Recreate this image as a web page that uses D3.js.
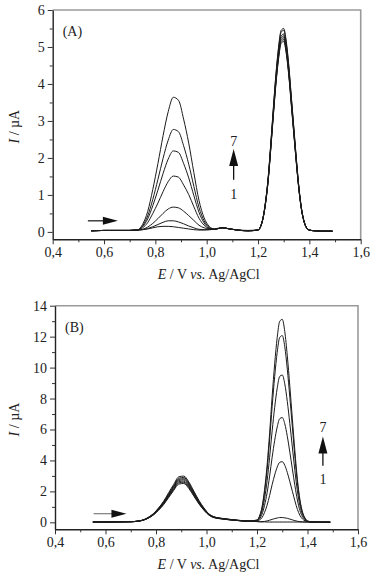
<!DOCTYPE html>
<html>
<head>
<meta charset="utf-8">
<script src="https://cdn.jsdelivr.net/npm/d3@7"></script>
<style>
  html, body { margin: 0; padding: 0; background: #fff; }
  svg { display: block; font-family: "Liberation Serif", "Times New Roman", serif; }
</style>
</head>
<body>
<svg width="375" height="575"></svg>
<script>
// potential grid shared by every voltammogram (V vs. Ag/AgCl)
const potential = [
  0.55, 0.60, 0.65, 0.70,
  0.73, 0.75, 0.77, 0.79, 0.81, 0.83, 0.85, 0.87, 0.89, 0.91, 0.93, 0.95, 0.97, 0.99, 1.01, 1.03,
  1.06, 1.09, 1.12, 1.16,
  1.20, 1.21, 1.22, 1.23, 1.24, 1.25, 1.26, 1.27, 1.28, 1.29, 1.30, 1.31, 1.32, 1.33, 1.34, 1.35, 1.36, 1.37, 1.38, 1.39, 1.40,
  1.42, 1.45, 1.49
];

// panel (A) currents, µA, curves 1..7
const currentA1 = [0.03, 0.04, 0.04, 0.04,
  0.05, 0.06, 0.08, 0.11, 0.14, 0.15, 0.15, 0.14, 0.12, 0.10, 0.08, 0.06, 0.05, 0.05, 0.06, 0.07,
  0.11, 0.08, 0.05, 0.03,
  0.05, 0.15, 0.40, 0.85, 1.50, 2.40, 3.35, 4.25, 4.95, 5.40, 5.45, 5.10, 4.45, 3.60, 2.75, 1.90, 1.15, 0.60, 0.27, 0.10, 0.05,
  0.03, 0.02, 0.02];
const currentA2 = [0.03, 0.04, 0.04, 0.04,
  0.05, 0.06, 0.09, 0.14, 0.20, 0.26, 0.30, 0.30, 0.27, 0.22, 0.16, 0.11, 0.07, 0.06, 0.06, 0.07,
  0.11, 0.08, 0.05, 0.03,
  0.05, 0.15, 0.40, 0.86, 1.51, 2.42, 3.38, 4.29, 5.00, 5.45, 5.50, 5.15, 4.49, 3.63, 2.78, 1.92, 1.16, 0.61, 0.27, 0.10, 0.05,
  0.03, 0.02, 0.02];
const currentA3 = [0.03, 0.04, 0.04, 0.04,
  0.05, 0.07, 0.13, 0.23, 0.36, 0.50, 0.62, 0.67, 0.65, 0.56, 0.44, 0.31, 0.18, 0.11, 0.08, 0.07,
  0.11, 0.08, 0.05, 0.03,
  0.05, 0.15, 0.39, 0.83, 1.47, 2.36, 3.29, 4.17, 4.86, 5.30, 5.35, 5.01, 4.37, 3.54, 2.70, 1.87, 1.13, 0.59, 0.27, 0.10, 0.05,
  0.03, 0.02, 0.02];
const currentA4 = [0.03, 0.04, 0.04, 0.04,
  0.05, 0.11, 0.25, 0.50, 0.78, 1.09, 1.36, 1.51, 1.48, 1.27, 1.01, 0.68, 0.37, 0.18, 0.09, 0.07,
  0.11, 0.08, 0.05, 0.03,
  0.05, 0.15, 0.39, 0.83, 1.46, 2.33, 3.26, 4.13, 4.81, 5.25, 5.30, 4.96, 4.33, 3.50, 2.67, 1.85, 1.12, 0.58, 0.26, 0.10, 0.05,
  0.03, 0.02, 0.02];
const currentA5 = [0.03, 0.04, 0.04, 0.04,
  0.05, 0.14, 0.35, 0.71, 1.13, 1.58, 1.97, 2.19, 2.15, 1.85, 1.46, 0.98, 0.53, 0.24, 0.10, 0.07,
  0.11, 0.08, 0.05, 0.03,
  0.05, 0.14, 0.39, 0.82, 1.44, 2.31, 3.23, 4.09, 4.77, 5.20, 5.25, 4.91, 4.29, 3.47, 2.65, 1.83, 1.11, 0.58, 0.26, 0.10, 0.05,
  0.03, 0.02, 0.02];
const currentA6 = [0.03, 0.04, 0.04, 0.04,
  0.05, 0.16, 0.43, 0.88, 1.42, 1.99, 2.48, 2.77, 2.71, 2.33, 1.83, 1.23, 0.66, 0.30, 0.12, 0.07,
  0.11, 0.08, 0.05, 0.03,
  0.05, 0.14, 0.38, 0.81, 1.43, 2.29, 3.20, 4.05, 4.72, 5.15, 5.20, 4.87, 4.25, 3.43, 2.62, 1.81, 1.10, 0.57, 0.26, 0.10, 0.05,
  0.03, 0.02, 0.02];
const currentA7 = [0.03, 0.04, 0.04, 0.04,
  0.05, 0.20, 0.55, 1.15, 1.85, 2.60, 3.25, 3.64, 3.56, 3.05, 2.40, 1.60, 0.85, 0.38, 0.15, 0.08,
  0.12, 0.08, 0.05, 0.04,
  0.05, 0.14, 0.38, 0.80, 1.42, 2.27, 3.17, 4.02, 4.68, 5.10, 5.15, 4.82, 4.21, 3.40, 2.60, 1.80, 1.09, 0.57, 0.26, 0.10, 0.05,
  0.03, 0.02, 0.02];

// panel (B) currents, µA, curves 1..7
const currentB1 = [0.02, 0.02, 0.03, 0.04,
  0.09, 0.16, 0.33, 0.57, 0.93, 1.36, 1.91, 2.45, 2.94, 2.99, 2.61, 2.01, 1.42, 0.93, 0.54, 0.36,
  0.26, 0.20, 0.14, 0.09,
  0.05, 0.04, 0.03, 0.03, 0.02, 0.02, 0.02, 0.02, 0.02, 0.02, 0.02, 0.02, 0.02, 0.02, 0.02, 0.02, 0.02, 0.02, 0.02, 0.02, 0.02,
  0.02, 0.01, 0.01];
const currentB2 = [0.02, 0.02, 0.03, 0.04,
  0.08, 0.16, 0.32, 0.55, 0.90, 1.32, 1.84, 2.37, 2.85, 2.90, 2.53, 1.95, 1.37, 0.90, 0.53, 0.35,
  0.25, 0.19, 0.14, 0.08,
  0.05, 0.04, 0.04, 0.06, 0.09, 0.14, 0.19, 0.24, 0.28, 0.31, 0.31, 0.29, 0.26, 0.21, 0.16, 0.11, 0.07, 0.04, 0.03, 0.02, 0.02,
  0.02, 0.01, 0.01];
const currentB3 = [0.02, 0.02, 0.03, 0.04,
  0.08, 0.15, 0.31, 0.53, 0.87, 1.28, 1.79, 2.31, 2.77, 2.82, 2.46, 1.90, 1.33, 0.87, 0.51, 0.34,
  0.25, 0.18, 0.13, 0.08,
  0.07, 0.15, 0.31, 0.64, 1.11, 1.74, 2.44, 3.06, 3.57, 3.88, 3.92, 3.69, 3.22, 2.63, 2.01, 1.39, 0.84, 0.45, 0.22, 0.10, 0.04,
  0.02, 0.01, 0.01];
const currentB4 = [0.02, 0.02, 0.03, 0.04,
  0.08, 0.15, 0.30, 0.52, 0.85, 1.25, 1.75, 2.25, 2.70, 2.75, 2.40, 1.85, 1.30, 0.85, 0.50, 0.33,
  0.24, 0.18, 0.13, 0.08,
  0.09, 0.22, 0.53, 1.10, 1.91, 2.99, 4.21, 5.29, 6.16, 6.70, 6.77, 6.37, 5.56, 4.54, 3.46, 2.38, 1.44, 0.76, 0.36, 0.16, 0.05,
  0.02, 0.01, 0.01];
const currentB5 = [0.02, 0.02, 0.03, 0.04,
  0.08, 0.15, 0.29, 0.50, 0.83, 1.21, 1.70, 2.18, 2.62, 2.67, 2.33, 1.80, 1.26, 0.83, 0.49, 0.32,
  0.23, 0.17, 0.13, 0.08,
  0.12, 0.31, 0.73, 1.54, 2.68, 4.20, 5.91, 7.43, 8.67, 9.43, 9.52, 8.95, 7.81, 6.39, 4.87, 3.35, 2.02, 1.07, 0.50, 0.21, 0.07,
  0.02, 0.01, 0.01];
const currentB6 = [0.02, 0.02, 0.03, 0.04,
  0.08, 0.14, 0.28, 0.49, 0.80, 1.18, 1.65, 2.12, 2.55, 2.59, 2.26, 1.74, 1.23, 0.80, 0.47, 0.31,
  0.23, 0.17, 0.12, 0.08,
  0.14, 0.38, 0.92, 1.95, 3.39, 5.32, 7.49, 9.42, 10.99, 11.95, 12.07, 11.35, 9.90, 8.09, 6.17, 4.24, 2.55, 1.35, 0.62, 0.26, 0.08,
  0.02, 0.01, 0.01];
const currentB7 = [0.02, 0.02, 0.03, 0.04,
  0.07, 0.14, 0.27, 0.48, 0.78, 1.14, 1.60, 2.06, 2.47, 2.51, 2.19, 1.69, 1.19, 0.78, 0.46, 0.30,
  0.22, 0.16, 0.12, 0.07,
  0.15, 0.41, 1.00, 2.12, 3.69, 5.78, 8.14, 10.24, 11.94, 12.99, 13.12, 12.33, 10.76, 8.80, 6.70, 4.61, 2.77, 1.46, 0.68, 0.28, 0.09,
  0.02, 0.01, 0.01];

// tick values
const xMajorTicks = [0.4, 0.6, 0.8, 1.0, 1.2, 1.4, 1.6];
const xMinorTicks = [0.5, 0.7, 0.9, 1.1, 1.3, 1.5];
const yMajorTicksA = [0, 1, 2, 3, 4, 5, 6];
const yMinorTicksA = [0.5, 1.5, 2.5, 3.5, 4.5, 5.5];
const yMajorTicksB = [0, 2, 4, 6, 8, 10, 12, 14];
const yMinorTicksB = [1, 3, 5, 7, 9, 11, 13];

const svg = d3.select("svg");

const commaFormat = d3.formatLocale({
  decimal: ",", thousands: ".", grouping: [3], currency: ["", ""]
}).format(".1f");

// prettier-ignore
const line = d3.line()
    .curve(d3.curveMonotoneX)

const drawPanel = (p) => {
  // prettier-ignore
  const x = d3.scaleLinear()
      .domain([0.4, 1.6])
      .range(p.xRange)

  // prettier-ignore
  const y = d3.scaleLinear()
      .domain(p.yDomain)
      .range(p.yRange)

  const g = svg.append("g").attr("class", "panel");
  const [x0, x1] = p.xRange;
  const [yb, yt] = p.yRange;

  // grey top and right frame
  g.append("path")
    .attr("d", `M${x0},${yt}H${x1}V${yb}`)
    .attr("fill", "none")
    .attr("stroke", "#9a9a9a")
    .attr("stroke-width", 1.6);

  // curves
  // prettier-ignore
  g.append("g")
      .selectAll("path")
      .data(p.curves)
      .join("path")
      .attr("fill", "none")
      .attr("stroke", "#1b1b1b")
      .attr("stroke-width", 1)
      .attr("d", (c) => line.x((d, i) => x(potential[i])).y((d) => y(d))(c))

  // bottom axis, major + minor ticks
  const xAxis = g.append("g")
    .attr("transform", `translate(0,${yb})`)
    .call(d3.axisBottom(x).tickValues(xMajorTicks).tickSize(5).tickSizeOuter(0).tickPadding(3).tickFormat(commaFormat));
  g.append("g")
    .attr("transform", `translate(0,${yb})`)
    .call(d3.axisBottom(x).tickValues(xMinorTicks).tickSize(3).tickSizeOuter(0).tickFormat(""))
    .call((s) => s.select(".domain").remove());

  // left axis, major + minor ticks
  const yAxis = g.append("g")
    .attr("transform", `translate(${x0},0)`)
    .call(d3.axisLeft(y).tickValues(p.yMajor).tickSize(5).tickSizeOuter(0).tickPadding(3).tickFormat(d3.format("d")));
  g.append("g")
    .attr("transform", `translate(${x0},0)`)
    .call(d3.axisLeft(y).tickValues(p.yMinor).tickSize(3).tickSizeOuter(0).tickFormat(""))
    .call((s) => s.select(".domain").remove());

  [xAxis, yAxis].forEach((a) => {
    a.attr("font-family", null);
    a.selectAll("text")
      .attr("font-size", 14)
      .attr("fill", "#222");
    a.select(".domain").attr("stroke", "#222").attr("stroke-width", 1.4);
  });
  g.selectAll(".tick line").attr("stroke", "#333");

  // axis titles
  const xTitle = g.append("text")
    .attr("x", (x0 + x1) / 2 + 2)
    .attr("y", yb + 40)
    .attr("text-anchor", "middle")
    .attr("font-size", 14)
    .attr("fill", "#222");
  xTitle.append("tspan").attr("font-style", "italic").text("E");
  xTitle.append("tspan").text(" / V ");
  xTitle.append("tspan").attr("font-style", "italic").text("vs.");
  xTitle.append("tspan").text(" Ag/AgCl");

  const yTitle = g.append("text")
    .attr("transform", `translate(19,${(yb + yt) / 2 + 2}) rotate(-90)`)
    .attr("text-anchor", "middle")
    .attr("font-size", 14)
    .attr("fill", "#222");
  yTitle.append("tspan").attr("font-style", "italic").text("I");
  yTitle.append("tspan").text(" / µA");

  // panel label
  g.append("text")
    .attr("x", x0 + 10)
    .attr("y", yt + 26)
    .attr("font-size", 14)
    .attr("fill", "#222")
    .text(p.label);

  // horizontal scan-direction arrow
  const h = p.scanArrow;
  const hy = y(h.current);
  const hx0 = x(h.from);
  const hx1 = x(h.to);
  g.append("line")
    .attr("x1", hx0).attr("x2", hx1 - 14)
    .attr("y1", hy).attr("y2", hy)
    .attr("stroke", p.scanColor)
    .attr("stroke-width", 1.3);
  g.append("path")
    .attr("d", `M${hx1},${hy}L${hx1 - 15},${hy - 4}L${hx1 - 15},${hy + 4}Z`)
    .attr("fill", "#111");

  // vertical 1 -> 7 arrow
  const v = p.growthArrow;
  const vx = x(v.potential);
  const vTop = y(v.top);
  const vBottom = y(v.bottom);
  g.append("line")
    .attr("x1", vx).attr("x2", vx)
    .attr("y1", vBottom).attr("y2", vTop + 16)
    .attr("stroke", "#111")
    .attr("stroke-width", 1.3);
  g.append("path")
    .attr("d", `M${vx},${vTop}L${vx - 4.5},${vTop + 17}L${vx + 4.5},${vTop + 17}Z`)
    .attr("fill", "#111");
  g.append("text")
    .attr("x", vx).attr("y", y(v.label7))
    .attr("text-anchor", "middle")
    .attr("font-size", 14)
    .attr("fill", "#222")
    .text("7");
  g.append("text")
    .attr("x", vx).attr("y", y(v.label1))
    .attr("text-anchor", "middle")
    .attr("font-size", 14)
    .attr("fill", "#222")
    .text("1");
};

drawPanel({
  label: "(A)",
  curves: [currentA1, currentA2, currentA3, currentA4, currentA5, currentA6, currentA7],
  xRange: [52.7, 360.7],
  yDomain: [-0.2, 6],
  yRange: [239.3, 10],
  yMajor: yMajorTicksA,
  yMinor: yMinorTicksA,
  scanArrow: { from: 0.537, to: 0.654, current: 0.3 },
  scanColor: "#222",
  growthArrow: { potential: 1.105, top: 2.24, bottom: 1.41, label7: 2.31, label1: 0.9 }
});

drawPanel({
  label: "(B)",
  curves: [currentB1, currentB2, currentB3, currentB4, currentB5, currentB6, currentB7],
  xRange: [55, 358],
  yDomain: [-0.45, 14],
  yRange: [529.3, 305.7],
  yMajor: yMajorTicksB,
  yMinor: yMinorTicksB,
  scanArrow: { from: 0.553, to: 0.683, current: 0.56 },
  scanColor: "#888",
  growthArrow: { potential: 1.461, top: 5.55, bottom: 3.66, label7: 5.87, label1: 2.48 }
});
</script>
</body>
</html>
